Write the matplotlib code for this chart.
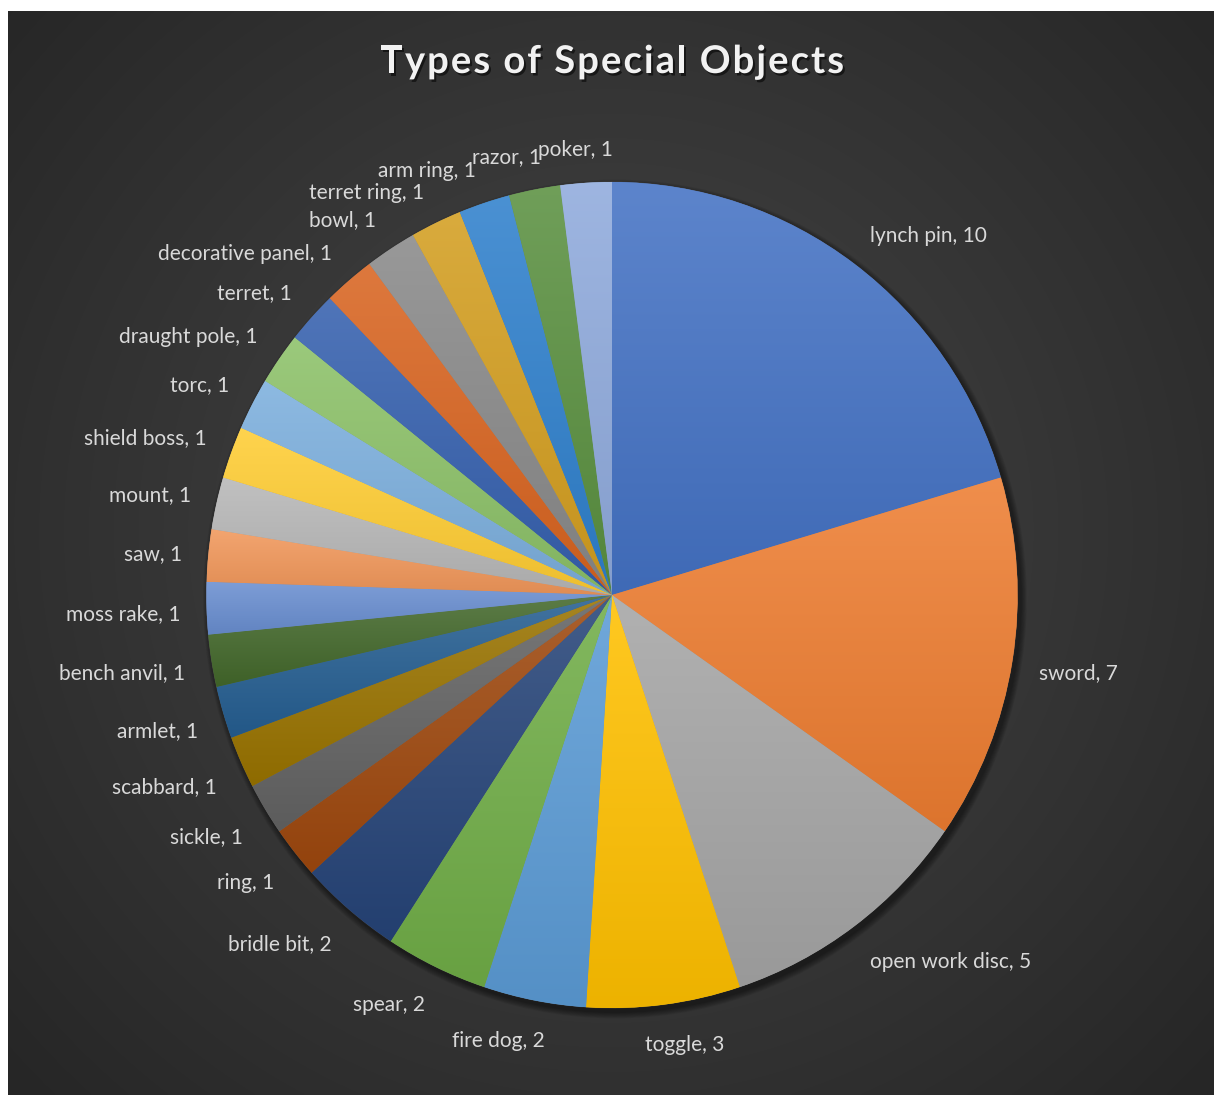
import numpy as np
import matplotlib
matplotlib.use("Agg")
import matplotlib.pyplot as plt
from matplotlib import colors as mcolors
from matplotlib import patheffects as pe
from matplotlib.patches import Circle

# ---- data ----
categories = [
    "lynch pin", "sword", "open work disc", "toggle", "fire dog", "spear",
    "bridle bit", "ring", "sickle", "scabbard", "armlet", "bench anvil",
    "moss rake", "saw", "mount", "shield boss", "torc", "draught pole",
    "terret", "decorative panel", "bowl", "terret ring", "arm ring",
    "razor", "poker",
]
counts = [10, 7, 5, 3, 2, 2, 2, 1, 1, 1, 1, 1, 1, 1, 1, 1, 1, 1, 1, 1, 1, 1, 1, 1, 1]
slice_colors = [
    "#4472C4", "#ED7D31", "#A5A5A5", "#FFC000", "#5B9BD5", "#70AD47",
    "#264478", "#9E480E", "#636363", "#997300", "#255E91", "#43682B",
    "#698ED0", "#F1975A", "#B7B7B7", "#FFCD33", "#7CAFDD", "#8CC168",
    "#3560AE", "#D86420", "#898989", "#D39E20", "#2F80CC", "#5A9040",
    "#8FAADC",
]
title = "Types of Special Objects"

W, H = 1214, 1095
fig = plt.figure(figsize=(W / 100, H / 100), dpi=100, facecolor="white")

# ---- dark radial-gradient panel ----
bg = fig.add_axes([8 / W, 0, 1 - 8 / W, (H - 11) / H])
bg.set_axis_off()
ny, nx = 400, 440
yy, xx = np.mgrid[0:1:ny * 1j, 0:1:nx * 1j]
d = np.sqrt(((xx - 0.5) * 1.1) ** 2 + ((yy - 0.52)) ** 2) / 0.75
d = np.clip(d, 0, 1)
c_in = np.array(mcolors.to_rgb("#474747"))
c_out = np.array(mcolors.to_rgb("#262626"))
img = c_in[None, None, :] * (1 - d[..., None]) + c_out[None, None, :] * d[..., None]
bg.imshow(img, extent=(0, 1, 0, 1), origin="lower", aspect="auto", interpolation="bilinear")
bg.set_xlim(0, 1)
bg.set_ylim(0, 1)

# ---- pie axes: y in pixels, x slightly compressed ----
ax = fig.add_axes([0, 0, 1, 1])
ax.patch.set_alpha(0)
cx, cy, R = 612, H - 595, 413
sx = 0.982  # horizontal pixels per data unit

# soft drop shadow under the pie
for k in range(7):
    ax.add_patch(Circle((cx + 3, cy - 4), R + 1 + k * 0.9, facecolor="black",
                        edgecolor="none", alpha=0.07, zorder=0))

wedges, _ = ax.pie(counts, colors=slice_colors, startangle=90, counterclock=False,
                   center=(cx, cy), radius=R,
                   wedgeprops=dict(linewidth=0.6, edgecolor=(1, 1, 1, 0.12), zorder=1))


def shade(c, f):
    c = np.array(mcolors.to_rgb(c))
    if f >= 0:
        return c + (1 - c) * f
    return c * (1 + f)


# vertical light-to-dark shading inside every slice
for w, col in zip(wedges, slice_colors):
    ext = w.get_path().get_extents()
    top, bot = shade(col, 0.13), shade(col, -0.07)
    t = np.linspace(0, 1, 64)[:, None, None]
    grad = bot[None, None, :] * (1 - t) + top[None, None, :] * t
    im = ax.imshow(grad, extent=(ext.x0, ext.x1, ext.y0, ext.y1), origin="lower",
                   aspect="auto", interpolation="bilinear", zorder=1.5)
    im.set_clip_path(w)

ax.set_xlim(cx - cx / sx, cx + (W - cx) / sx)
ax.set_ylim(0, H)
ax.set_aspect("auto")
ax.set_axis_off()

renderer = fig.canvas.get_renderer()

# ---- data labels outside each slice ----
label_font = dict(family="Lato", fontsize=15, color="#D9D9D9")
total = sum(counts)
cum = 0
RL = R + 27
for name, v in zip(categories, counts):
    mid = (cum + v / 2) / total * 2 * np.pi
    cum += v
    ang = np.pi / 2 - mid
    ca, sa = np.cos(ang), np.sin(ang)
    ax_, ay_ = cx + RL * ca, cy + RL * sa
    t = ax.text(ax_, ay_, f"{name}, {v}", ha="center", va="center", zorder=3, **label_font)
    bb = t.get_window_extent(renderer)
    ox = bb.width / sx / 2 * np.clip(ca * 3.5, -1, 1)
    oy = bb.height / 2 * np.clip(sa * 2.5, -1, 1)
    t.set_position((ax_ + ox, ay_ + oy - 4))

# ---- letter-spaced title with shadow ----
title_font = dict(family="Lato", fontsize=27.5, fontweight="bold", color="#F2F2F2")


def text_width(s):
    if not s:
        return 0.0
    a = ax.text(0, 0, s + "|", **title_font)
    b = ax.text(0, 0, "|", **title_font)
    w_ = a.get_window_extent(renderer).width - b.get_window_extent(renderer).width
    a.remove()
    b.remove()
    return w_ / sx


spacing = 2.0 / sx
full = text_width(title) + spacing * (len(title) - 1)
x0 = cx - full / 2
base_y = H - 73
shadow = [pe.withSimplePatchShadow(offset=(1.5, -1.8), shadow_rgbFace="black", alpha=0.55)]
for i, ch in enumerate(title):
    if ch == " ":
        continue
    xi = x0 + text_width(title[:i]) + spacing * i
    ax.text(xi, base_y, ch, ha="left", va="baseline", zorder=4,
            path_effects=shadow, **title_font)

fig.savefig("out.png", dpi=100, facecolor="white")
